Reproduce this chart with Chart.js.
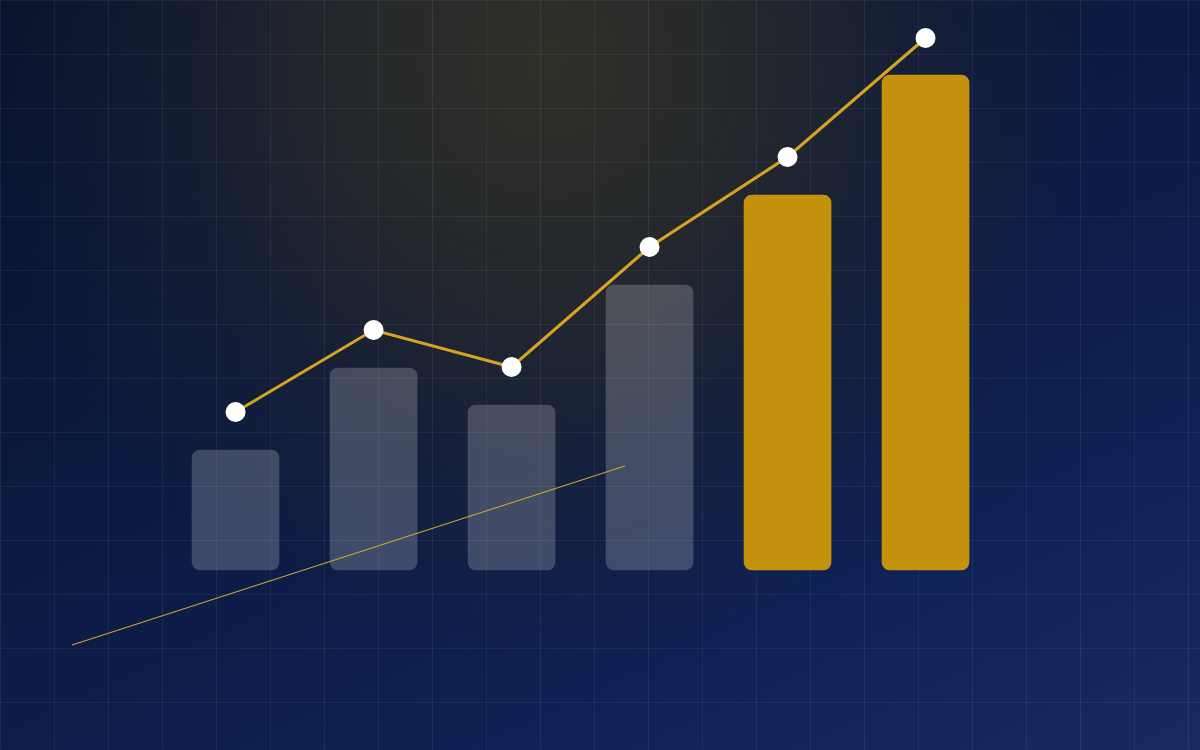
<!DOCTYPE html>
<html>
<head>
    <title>Growth Chart</title>
    <script src="https://cdn.jsdelivr.net/npm/chart.js"></script>
    <style>
        html, body {
            margin: 0;
            padding: 0;
            width: 1200px;
            height: 750px;
            overflow: hidden;
        }
        body {
            background-color: #0e1f4c;
            background-image:
                linear-gradient(to right, rgba(255,255,255,0.06) 1px, transparent 1px),
                linear-gradient(to bottom, rgba(255,255,255,0.06) 1px, transparent 1px),
                radial-gradient(ellipse 560px 600px at 545px 60px, rgba(48,48,40,1) 0%, rgba(40,42,42,0.9) 35%, rgba(30,35,48,0.55) 65%, rgba(14,31,76,0) 100%),
                linear-gradient(155deg, #08122c 0%, #0b1a40 40%, #0e2052 70%, #172b60 100%);
            background-size: 54px 54px, 54px 54px, 100% 100%, 100% 100%;
            background-position: 54px 0, 0 54px, 0 0, 0 0;
        }
        .wrap {
            position: absolute;
            left: 0;
            top: 0;
            width: 1200px;
            height: 750px;
        }
    </style>
</head>
<body>
    <div class="wrap">
        <canvas id="growthChart" width="1200" height="750"></canvas>
    </div>

    <script>
        // Data
        const steps = [0, 1, 2, 3, 4, 5];
        const barValues = [24, 40.4, 33, 57, 75, 99];
        const lineValues = [31.6, 48, 40.6, 64.6, 82.6, 106.4];
        const trendX = [-1.185, 2.822];
        const trendY = [-15, 20.8];
        const highlighted = [false, false, false, false, true, true];

        const gold = '#c4920c';
        const goldLine = '#d6a322';
        const faded = 'rgba(255,255,255,0.2)';

        const ctx = document.getElementById('growthChart').getContext('2d');

        new Chart(ctx, {
            type: 'bar',
            data: {
                datasets: [
                    {
                        type: 'line',
                        data: steps.map((s, i) => ({ x: s, y: lineValues[i] })),
                        borderColor: goldLine,
                        borderWidth: 3,
                        pointRadius: 10,
                        pointBackgroundColor: '#ffffff',
                        pointBorderWidth: 0,
                        tension: 0,
                        clip: false,
                        order: 0
                    },
                    {
                        type: 'line',
                        data: trendX.map((x, i) => ({ x: x, y: trendY[i] })),
                        borderColor: 'rgba(222,176,50,0.9)',
                        borderWidth: 1.2,
                        pointRadius: 0,
                        tension: 0,
                        clip: false,
                        order: 1
                    },
                    {
                        type: 'bar',
                        data: steps.map((s, i) => ({ x: s, y: barValues[i] })),
                        backgroundColor: highlighted.map(h => h ? gold : faded),
                        borderRadius: 8,
                        borderSkipped: false,
                        barThickness: 87,
                        order: 2
                    }
                ]
            },
            options: {
                responsive: false,
                animation: false,
                layout: { padding: 0, autoPadding: false },
                plugins: {
                    legend: { display: false },
                    tooltip: { enabled: false }
                },
                scales: {
                    x: {
                        type: 'linear',
                        min: -1.707,
                        max: 6.989,
                        offset: false,
                        display: false
                    },
                    y: {
                        type: 'linear',
                        min: -36,
                        max: 114,
                        display: false
                    }
                }
            }
        });
    </script>
</body>
</html>
